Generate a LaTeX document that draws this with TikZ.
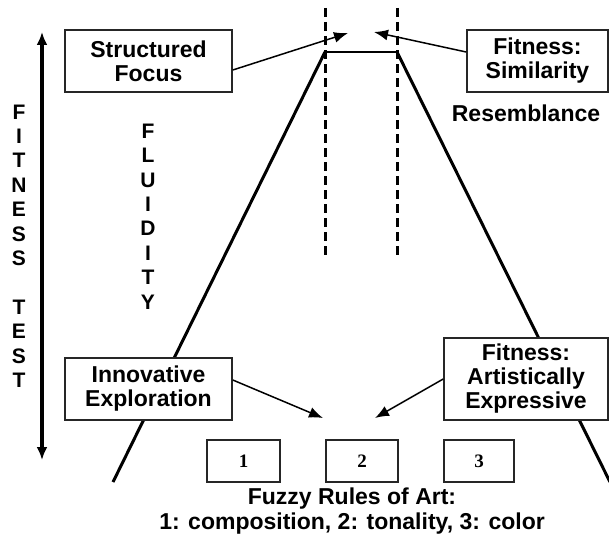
\documentclass[tikz,border=0pt]{standalone}
\usepackage{fontspec}
\setmainfont{Liberation Sans}
\newfontfamily\numfont{Liberation Serif}
\usetikzlibrary{arrows.meta}

\begin{document}
\begin{tikzpicture}[x=1pt,y=-1pt,
  box/.style={draw=black!85,line width=1.6pt,fill=white,inner sep=0pt,align=center,font=\bfseries\fontsize{23}{24}\selectfont},
  word/.style={inner sep=0pt,align=center,font=\bfseries\fontsize{23}{25}\selectfont},
  column/.style={inner sep=0pt,align=center,font=\bfseries\fontsize{21}{24.4}\selectfont},
  numbox/.style={draw=black!85,line width=1.6pt,fill=white,minimum height=42pt,inner sep=0pt,font=\numfont\bfseries\fontsize{19}{20}\selectfont},
  slope/.style={line width=3pt},
  guide/.style={line width=3pt,dash pattern=on 9pt off 5pt},
  arr/.style={line width=1.5pt,-{Latex[length=14pt,width=11pt]}}]
\useasboundingbox (0,0) rectangle (609,535);
\coordinate (tl) at (325,52);
\coordinate (tr) at (397,52);
\coordinate (bl) at (113,482);
\coordinate (br) at (610,482);
\coordinate (gl top) at (325,8);
\coordinate (gl bot) at (325,257);
\coordinate (gr top) at (397,8);
\coordinate (gr bot) at (397,257);
\coordinate (fit top) at (42,32);
\coordinate (fit bot) at (42,460);
\coordinate (tip a) at (348,33);
\coordinate (tip b) at (374,32);
\coordinate (tip c) at (323,418);
\coordinate (tip d) at (375,418);
\draw[guide] (gl top) -- (gl bot);
\draw[guide] (gr top) -- (gr bot);
\draw[slope] (bl) -- (tl);
\draw[slope] (br) -- (tr);
\draw[line width=2.4pt] (tl) -- (tr);
\draw[line width=3.4pt,{Latex[length=13pt,width=11pt]}-{Latex[length=13pt,width=11pt]}] (fit top) -- (fit bot);
\node[column] (fitness) at (19,246) {F\\I\\T\\N\\E\\S\\S\\[24.4pt]T\\E\\S\\T};
\node[column] (fluidity) at (148,216.5) {F\\L\\U\\I\\D\\I\\T\\Y};
\node[box,minimum width=167pt,minimum height=62pt] (focus) at (148.5,61) {Structured\\Focus};
\node[box,minimum width=141pt,minimum height=62pt] (similarity) at (537.5,61) {Fitness:\\Similarity};
\node[word] (resemblance) at (526,113) {Resemblance};
\node[box,minimum width=167pt,minimum height=62pt] (innovative) at (148.5,389) {Innovative\\Exploration};
\node[box,minimum width=164pt,minimum height=82pt] (artistic) at (526,379) {Fitness:\\Artistically\\Expressive};
\node[numbox,minimum width=73pt] (rule1) at (243.5,461) {1};
\node[numbox,minimum width=72pt] (rule2) at (362,461) {2};
\node[numbox,minimum width=70pt] (rule3) at (479,461) {3};
\node[word] (fuzzy) at (352,511) {Fuzzy Rules of Art:\\1: composition, 2: tonality, 3: color};
\draw[arr] ([yshift=-9pt]focus.east) -- (tip a);
\draw[arr] ([yshift=9pt]similarity.west) -- (tip b);
\draw[arr] ([yshift=9pt]innovative.east) -- (tip c);
\draw[arr] (artistic.west) -- (tip d);
\end{tikzpicture}
\end{document}
